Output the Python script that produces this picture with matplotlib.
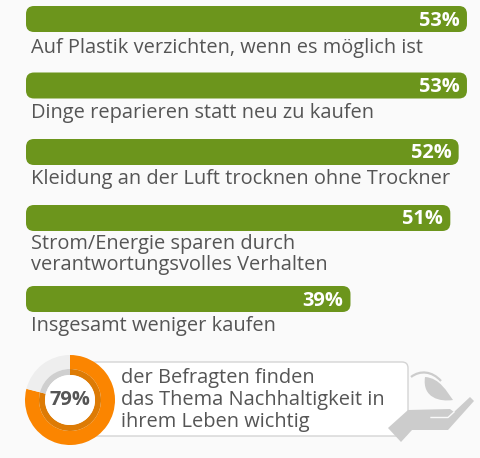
import matplotlib
matplotlib.use('Agg')
import matplotlib.pyplot as plt
from matplotlib.patches import FancyBboxPatch, Polygon, PathPatch
from matplotlib.path import Path

plt.rcParams['font.family'] = ['Open Sans', 'DejaVu Sans']

labels = ['Auf Plastik verzichten, wenn es möglich ist',
          'Dinge reparieren statt neu zu kaufen',
          'Kleidung an der Luft trocknen ohne Trockner',
          'Strom/Energie sparen durch\nverantwortungsvolles Verhalten',
          'Insgesamt weniger kaufen']
values = [53, 53, 52, 51, 39]
donut_values = [79, 21]
callout_text = 'der Befragten finden\ndas Thema Nachhaltigkeit in\nihrem Leben wichtig'

bg = '#fafafa'
green = '#6c951c'
orange = '#fb8500'
text_col = '#555555'
W, H = 480, 458
px_per_pct = 8.32
bar_tops = [6, 72.5, 139, 205, 286]
label_base = [53, 118, 184, 270, 331]  # last line of each label

fig = plt.figure(figsize=(W / 100, H / 100), dpi=100, facecolor=bg)

# bars: x axis in percent, y axis in pixels
ax = fig.add_axes([0, 0, 1, 1])
ax.set_xlim(-26 / px_per_pct, (W - 26) / px_per_pct)
ax.set_ylim(H, 0)
ax.axis('off')
for v, top, lab, ly in zip(values, bar_tops, labels, label_base):
    r = 8
    ax.add_patch(FancyBboxPatch((r / px_per_pct, top + r), v - 2 * r / px_per_pct, 26 - 2 * r,
                                boxstyle='round,pad=%f,rounding_size=%f' % (r / px_per_pct, r / px_per_pct),
                                mutation_aspect=px_per_pct, fc=green, ec='none'))
    ax.text(v - 0.85, top + 14.5, '%d%%' % v, color='white', fontsize=14.4, fontweight='bold',
            ha='right', va='center')
    ax.text(5 / px_per_pct, ly, lab, color=text_col, fontsize=14.4, ha='left', va='baseline', linespacing=1.08)

# callout + icon, plain pixel coords
ax2 = fig.add_axes([0, 0, 1, 1])
ax2.set_xlim(0, W)
ax2.set_ylim(H, 0)
ax2.axis('off')
ax2.patch.set_alpha(0)

icon = '#cccccc'
ax2.add_patch(FancyBboxPatch((90, 362), 318, 74, boxstyle='round,pad=0,rounding_size=6',
                             fc='white', ec='#d4d4d4', lw=1, zorder=2))
# hand sits on top of the box corner
ax2.add_patch(Polygon([(388, 428), (408, 410), (450, 409), (454, 412), (470, 397), (474, 401),
                       (448, 430), (412, 430), (401, 442)], closed=True, fc=icon, ec='none', zorder=3))
ax2.plot([431, 448, 454], [417.5, 417.5, 412], color=bg, lw=1, zorder=4)
# leaf
leaf = Path([(425, 377), (440, 378), (447, 392), (453, 400), (440, 402), (422, 398), (425, 377)],
            [Path.MOVETO, Path.CURVE4, Path.CURVE4, Path.CURVE4, Path.CURVE4, Path.CURVE4, Path.CURVE4])
ax2.add_patch(PathPatch(leaf, fc=icon, ec='none', zorder=1))
stem = Path([(411, 377), (420, 370), (432, 371), (441, 381)], [Path.MOVETO, Path.CURVE4, Path.CURVE4, Path.CURVE4])
ax2.add_patch(PathPatch(stem, fc='none', ec=icon, lw=1.6, zorder=1))
ax2.text(121, 400, callout_text, color=text_col, fontsize=14.4, ha='left', va='center', linespacing=1.1, zorder=5)

# donut, centre (70, 400), outer radius 45
ax3 = fig.add_axes([25 / W, 1 - 445 / H, 90 / W, 90 / H])
ax3.pie(donut_values, colors=[orange, '#eeeeee'], startangle=90, counterclock=False, radius=1,
        wedgeprops=dict(width=14 / 45, linewidth=0))
ax3.pie(donut_values, colors=['#dd7b05', '#cfcfcf'], startangle=90, counterclock=False, radius=31 / 45,
        wedgeprops=dict(width=6 / 45, linewidth=0))
ax3.set_xlim(-1, 1)
ax3.set_ylim(-1, 1)
ax3.add_patch(plt.Circle((0, 0), 25 / 45, fc='white', ec='none'))
ax3.text(0, 0, '%d%%' % donut_values[0], color=text_col, fontsize=14.4, fontweight='bold',
         ha='center', va='center')

fig.savefig('out.png', dpi=100, facecolor=bg)
